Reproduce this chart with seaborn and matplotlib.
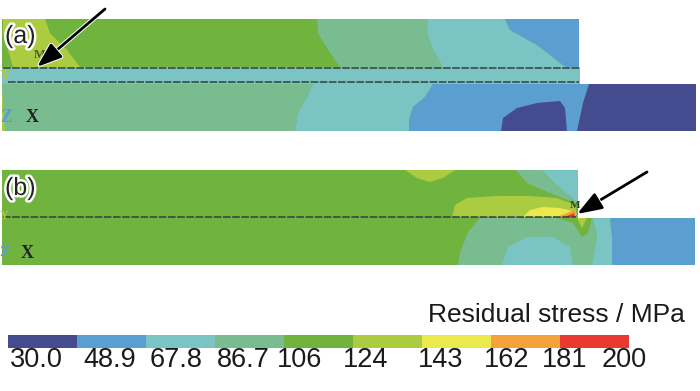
import numpy as np
import seaborn as sns
import matplotlib
matplotlib.use('Agg')
import matplotlib.pyplot as plt
import matplotlib.patheffects as pe
from matplotlib.colors import ListedColormap

# Colour bar
level_colors = ['#454b8f', '#5b9fd0', '#7bc4c4', '#78bc90', '#70b43f',
                '#abcb40', '#ece94f', '#f4a23a', '#e93a2f']
level_labels = ['30.0', '48.9', '67.8', '86.7', '106', '124', '143', '162', '181', '200']
label_x = [36, 110, 176, 243, 300, 366, 441, 507, 565, 624]
DARK, BLUE, TEAL, SEA, GREEN, LIME, YELLOW, ORANGE, RED = range(9)

# Panel (a), stress bands (pixel positions)
a_body_x = [2, 579, 579, 580, 580, 696, 696, 2]
a_body_y = [19, 19, 68, 68, 84, 84, 131, 131]
a_lime_x = [3, 45, 50, 67, 80, 13, 10, 3]
a_lime_y = [19, 19, 33, 50, 67, 67, 57, 33]
a_sea_up_x = [317, 318, 328, 340, 443, 433, 427, 428]
a_sea_up_y = [19, 33, 50, 67, 67, 50, 32, 19]
a_teal_up_x = [428, 427, 433, 443, 566, 563, 537, 510, 505]
a_teal_up_y = [19, 32, 50, 67, 67, 65, 45, 30, 19]
a_blue_up_x = [505, 510, 537, 563, 566, 579, 579]
a_blue_up_y = [19, 30, 45, 65, 67, 67, 19]
a_strip_x = [2, 580, 580, 2]
a_strip_y = [67, 67, 84, 84]
a_sea_low_x = [2, 313, 307, 298, 295, 2]
a_sea_low_y = [84, 84, 97, 113, 131, 131]
a_teal_low_x = [313, 433, 425, 413, 409, 409, 295, 298, 307]
a_teal_low_y = [84, 84, 97, 107, 120, 131, 131, 113, 97]
a_blue_low_x = [433, 590, 583, 577, 409, 409, 413, 425]
a_blue_low_y = [84, 84, 103, 131, 131, 120, 107, 97]
a_dark_x = [501, 503, 517, 537, 560, 565, 567]
a_dark_y = [131, 118, 108, 103, 101, 108, 131]
a_right_x = [589, 696, 696, 577, 583]
a_right_y = [84, 84, 131, 131, 103]
a_left_x = [2, 3, 4, 5, 2]
a_left_y = [85, 105, 120, 131, 131]

# Panel (b)
b_body_x = [2, 578, 578, 695, 695, 2]
b_body_y = [170, 170, 218, 218, 265, 265]
b_bump_x = [405, 417, 430, 443, 455]
b_bump_y = [170, 178, 182, 178, 170]
b_sea_up_x = [516, 527, 550, 575, 578, 578]
b_sea_up_y = [170, 183, 193, 203, 205, 170]
b_teal_up_x = [542, 557, 577, 578, 578]
b_teal_up_y = [170, 185, 202, 204, 170]
b_lime_x = [452, 455, 467, 497, 530, 557, 575, 576, 576]
b_lime_y = [217, 205, 198, 196, 196, 198, 205, 210, 217]
b_yellow_x = [523, 530, 543, 560, 573, 575, 575]
b_yellow_y = [217, 210, 207, 208, 211, 213, 217]
b_orange_x = [557, 567, 573, 577, 575]
b_orange_y = [217, 213, 210, 213, 217]
b_red_x = [565, 574, 575]
b_red_y = [217, 213, 217]
b_sea_low_x = [480, 593, 597, 592, 458, 460, 468]
b_sea_low_y = [218, 218, 237, 265, 265, 253, 232]
b_teal_band_x = [593, 610, 612, 612, 592, 597]
b_teal_band_y = [218, 218, 237, 265, 265, 237]
b_blue_x = [610, 695, 695, 612, 612]
b_blue_y = [218, 218, 265, 265, 237]
b_teal_low_x = [502, 508, 527, 553, 570, 573]
b_teal_low_y = [265, 247, 237, 237, 247, 265]
b_wedge_x = [557, 573, 582, 588, 592]
b_wedge_y = [218, 223, 237, 233, 218]
b_lime_low_x = [577, 582, 587]
b_lime_low_y = [218, 228, 218]

bands = [
    (a_body_x, a_body_y, GREEN), (a_lime_x, a_lime_y, LIME),
    (a_sea_up_x, a_sea_up_y, SEA), (a_teal_up_x, a_teal_up_y, TEAL),
    (a_blue_up_x, a_blue_up_y, BLUE), (a_strip_x, a_strip_y, TEAL),
    (a_sea_low_x, a_sea_low_y, SEA), (a_teal_low_x, a_teal_low_y, TEAL),
    (a_blue_low_x, a_blue_low_y, BLUE), (a_dark_x, a_dark_y, DARK),
    (a_right_x, a_right_y, DARK), (a_left_x, a_left_y, LIME),
    (b_body_x, b_body_y, GREEN), (b_bump_x, b_bump_y, LIME),
    (b_sea_up_x, b_sea_up_y, SEA), (b_teal_up_x, b_teal_up_y, TEAL),
    (b_lime_x, b_lime_y, LIME), (b_yellow_x, b_yellow_y, YELLOW),
    (b_orange_x, b_orange_y, ORANGE), (b_red_x, b_red_y, RED),
    (b_sea_low_x, b_sea_low_y, SEA), (b_teal_band_x, b_teal_band_y, TEAL),
    (b_blue_x, b_blue_y, BLUE), (b_teal_low_x, b_teal_low_y, TEAL),
    (b_wedge_x, b_wedge_y, GREEN), (b_lime_low_x, b_lime_low_y, LIME),
]

# Weld lines: x start, x end, y
dashed_lines = [(3, 579, 67.5), (8, 579, 82), (3, 576, 216.5)]

# Axis marks left over from the FE software: text, x, y, colour, size
fe_marks = [
    ('M', 40, 55, '#555533', 9), ('Y', 5, 76, '#abcb40', 11), ('Z', 6, 118, '#5b9fd0', 13),
    ('X', 32, 118, '#222222', 13), ('M', 575, 206, '#334422', 8), ('Y', 4, 216, '#abcb40', 9),
    ('Z', 4, 252, '#5b9fd0', 11), ('X', 27, 253, '#222222', 13),
]

sns.set_theme(style='white')
plt.rcParams['font.family'] = ['Liberation Sans', 'DejaVu Sans']

fig = plt.figure(figsize=(7, 3.91), dpi=100)
ax = fig.add_axes([0, 0, 1, 1])
ax.set_xlim(0, 700)
ax.set_ylim(391, 0)
ax.axis('off')

for xs, ys, level in bands:
    ax.fill(xs, ys, color=level_colors[level], linewidth=0, zorder=1)

for x0, x1, y in dashed_lines:
    sns.lineplot(x=[x0, x1], y=[y, y], ax=ax, color='#33413a', linewidth=1.1,
                 linestyle=(0, (5, 1)), estimator=None, legend=False, zorder=2)

for text, x, y, color, size in fe_marks:
    ax.text(x, y, text, color=color, fontsize=size, ha='center', va='center',
            family='Liberation Serif', weight='bold', zorder=3)

halo = [pe.withStroke(linewidth=3.5, foreground='white')]
ax.text(5, 36, '(a)', fontsize=18, color='#222222', va='center', path_effects=halo, zorder=4)
ax.text(5, 188, '(b)', fontsize=18, color='#222222', va='center', path_effects=halo, zorder=4)

# Arrows
arrow_style = dict(arrowstyle='-|>,head_length=1.25,head_width=0.45', color='black', lw=2,
                   shrinkA=0, shrinkB=0,
                   path_effects=[pe.withStroke(linewidth=3.4, foreground='white')])
ax.annotate('', xy=(37, 67), xytext=(105, 9), arrowprops=arrow_style, zorder=5)
ax.annotate('', xy=(577, 214), xytext=(647, 172), arrowprops=arrow_style, zorder=5)

# Colour bar
cax = fig.add_axes([8 / 700, 1 - 348 / 391, 621 / 700, 13 / 391])
sns.heatmap(np.arange(9).reshape(1, 9), ax=cax, cmap=ListedColormap(level_colors),
            cbar=False, xticklabels=False, yticklabels=False)

for label, x in zip(level_labels, label_x):
    ax.text(x, 360, label, fontsize=19.5, color='#1a1a1a', ha='center', va='center')
ax.text(685, 315, 'Residual stress / MPa', fontsize=19, color='#1a1a1a', ha='right', va='center')

plt.savefig('out.png', dpi=100)
